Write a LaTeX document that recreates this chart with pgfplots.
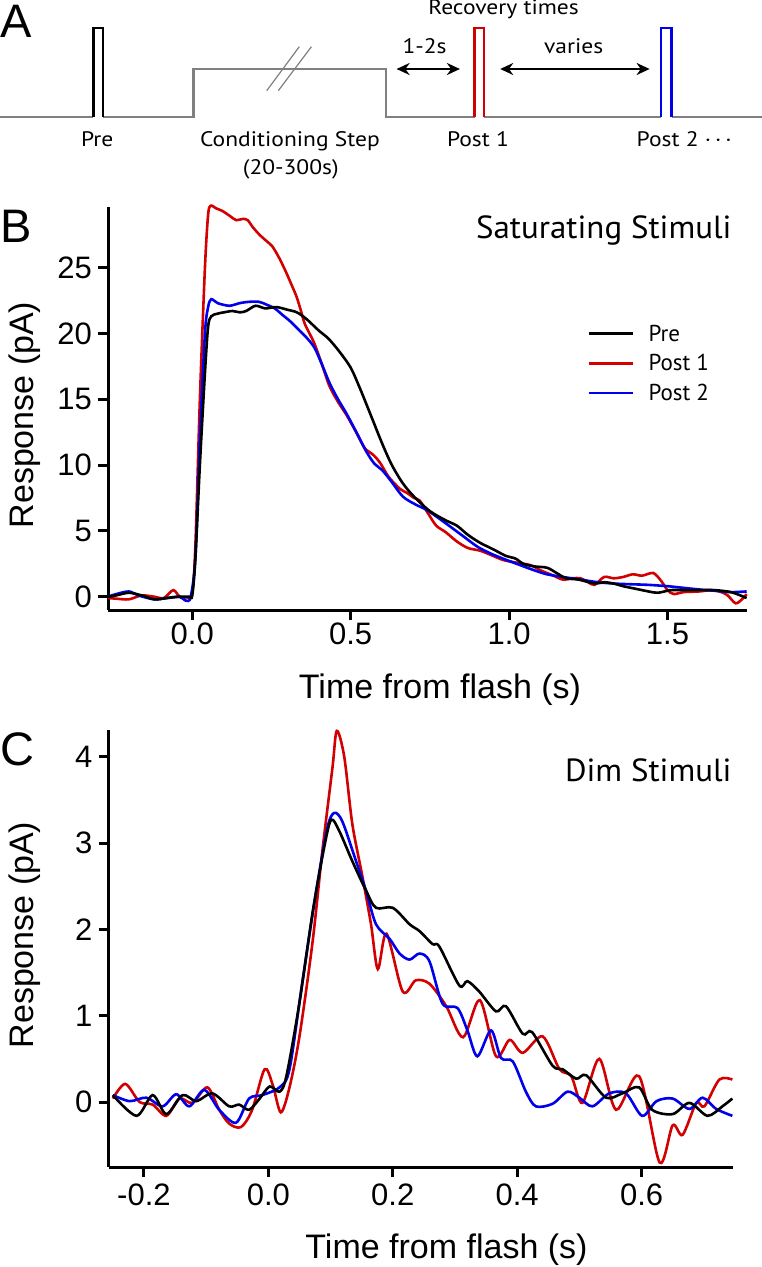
\documentclass[border=0pt]{standalone}
\usepackage{pgfplots}
\pgfplotsset{compat=1.18}
\usepackage{fontspec}
\setmainfont{Liberation Sans}
\newfontfamily\myriad{PT Sans}
\usetikzlibrary{arrows.meta}
\definecolor{cred}{RGB}{210,0,0}
\definecolor{cblue}{RGB}{0,0,235}
\definecolor{cgray}{RGB}{128,128,128}
\begin{document}
\begin{tikzpicture}
\path[use as bounding box] (0pt,0pt) rectangle (762pt,-1267pt);
% ---------------- Panel A ----------------
\begin{axis}[at={(0pt,0pt)}, anchor=north west, width=762pt, height=200pt, scale only axis,
  xmin=0, xmax=762, ymin=-200, ymax=0, hide axis, clip=false]
\addplot[cgray, line width=2.8pt] coordinates {(0,-117) (93.4,-117)};
\addplot[cgray, line width=2.8pt] coordinates {(103.2,-117) (193.7,-117) (193.7,-69) (385.9,-69) (385.9,-117) (474.5,-117)};
\addplot[cgray, line width=2.8pt] coordinates {(484.2,-117) (660.8,-117)};
\addplot[cgray, line width=2.8pt] coordinates {(671.5,-117) (762,-117)};
\addplot[cgray, line width=1.2pt] coordinates {(266.7,-90.7) (299.3,-46.7)};
\addplot[cgray, line width=1.2pt] coordinates {(278.3,-90.7) (311.4,-46.7)};
\addplot[black, line width=2.5pt] coordinates {(93.4,-117) (93.4,-28) (103.2,-28) (103.2,-117)};
\addplot[cred, line width=2.5pt] coordinates {(474.5,-117) (474.5,-28) (484.2,-28) (484.2,-117)};
\addplot[cblue, line width=2.5pt] coordinates {(660.8,-117) (660.8,-28) (671.5,-28) (671.5,-117)};
\addplot[black, line width=2.4pt, {Stealth[length=13pt,width=12pt]}-{Stealth[length=13pt,width=12pt]}] coordinates {(396.6,-69) (459.9,-69)};
\addplot[black, line width=2.4pt, {Stealth[length=13pt,width=12pt]}-{Stealth[length=13pt,width=12pt]}] coordinates {(500.2,-69) (649.6,-69)};
\end{axis}
% ---------------- Panel B ----------------
\begin{axis}[at={(108pt,-610pt)}, anchor=south west, width=639pt, height=403pt, scale only axis,
  xmin=-0.266, xmax=1.751, ymin=-1.01, ymax=29.6,
  axis x line*=bottom, axis y line*=left,
  axis line style={line width=3pt, -},
  tick style={line width=3pt, black}, tick align=outside, major tick length=10pt,
  xtick={0,0.5,1,1.5}, xticklabels={0.0,0.5,1.0,1.5},
  ytick={0,5,10,15,20,25}, yticklabels={0,5,10,15,20,25},
  tick label style={font=\fontsize{31}{37}\selectfont},
  xticklabel style={inner sep=0pt, anchor=north, yshift=-3pt},
  yticklabel style={inner sep=0pt, anchor=east, xshift=-6pt},
  legend style={draw=none, fill=none, at={(axis description cs:0.7496,0.708)}, anchor=north west,
     font=\myriad\fontsize{23}{27}\selectfont, row sep=11.8pt, inner sep=0pt,
     nodes={inner sep=0pt},
     /tikz/every odd column/.append style={column sep=14.5pt}},
  legend cell align=left,
  legend image code/.code={\draw[#1] (0pt,0pt) -- (44pt,0pt);},
  clip=false]
\addlegendimage{black, line width=2.8pt}
\addlegendentry{Pre}
\addlegendimage{cred, line width=2.8pt}
\addlegendentry{Post 1}
\addlegendimage{cblue, line width=2.8pt}
\addlegendentry{Post 2}
\addplot[cred, line width=2.6pt, smooth, forget plot] coordinates {
(-0.266,-0.1) (-0.24,-0.15) (-0.2,-0.2) (-0.16,0.1) (-0.12,0.0) (-0.09,-0.1) (-0.06,0.5) (-0.04,0.0)
(-0.02,-0.05) (0.0,0.3) (0.01,4) (0.024,15) (0.04,25) (0.05,29) (0.058,29.7) (0.075,29.5)
(0.095,29.3) (0.12,28.9) (0.139,28.6) (0.16,28.7) (0.175,28.6) (0.19,28.1) (0.212,27.5) (0.235,27.0)
(0.253,26.6) (0.275,25.7) (0.297,24.6) (0.315,23.6) (0.329,22.8) (0.342,21.8) (0.354,20.8) (0.37,20.0)
(0.386,19.2) (0.41,17.6) (0.433,16.0) (0.46,14.8) (0.487,13.8) (0.515,12.6) (0.544,11.3) (0.57,10.8)
(0.592,10.2) (0.62,9.1) (0.655,8.2) (0.677,7.9) (0.7,7.5) (0.718,7.3) (0.745,6.3) (0.77,5.4)
(0.8,4.9) (0.835,4.2) (0.87,3.7) (0.908,3.5) (0.94,3.2) (0.98,2.8) (1.02,2.6) (1.067,2.4)
(1.1,2.0) (1.14,1.6) (1.17,1.3) (1.2,1.4) (1.225,1.4) (1.25,1.1) (1.27,0.9) (1.30,1.5)
(1.33,1.4) (1.36,1.5) (1.39,1.7) (1.42,1.6) (1.455,1.8) (1.48,1.2) (1.50,0.5) (1.52,0.2)
(1.55,0.35) (1.6,0.4) (1.64,0.5) (1.67,0.35) (1.69,0.1) (1.715,-0.5) (1.735,-0.2) (1.75,0.2)};
\addplot[cblue, line width=2.6pt, smooth, forget plot] coordinates {
(-0.266,0.0) (-0.24,0.2) (-0.2,0.4) (-0.17,0.1) (-0.12,-0.2) (-0.08,-0.1) (-0.04,0.0) (-0.02,-0.3)
(-0.005,0.0) (0.01,3) (0.024,12) (0.04,20) (0.05,22) (0.06,22.6) (0.08,22.3) (0.117,22.1)
(0.15,22.3) (0.18,22.4) (0.21,22.4) (0.233,22.2) (0.26,21.9) (0.285,21.4) (0.31,20.9) (0.339,20.2)
(0.36,19.7) (0.386,18.9) (0.41,17.6) (0.434,16.2) (0.46,15.0) (0.487,13.9) (0.52,12.4) (0.55,11.0)
(0.575,10.1) (0.6,9.6) (0.63,8.7) (0.665,7.6) (0.705,7.0) (0.74,6.6) (0.77,6.1) (0.81,5.4)
(0.855,4.6) (0.9,3.8) (0.94,3.3) (0.98,2.9) (1.035,2.4) (1.08,2.0) (1.12,1.7) (1.17,1.5)
(1.225,1.3) (1.28,1.1) (1.33,1.0) (1.38,0.95) (1.44,0.9) (1.5,0.8) (1.54,0.7) (1.6,0.55)
(1.65,0.45) (1.7,0.35) (1.75,0.4)};
\addplot[black, line width=2.6pt, smooth, forget plot] coordinates {
(-0.266,0.0) (-0.24,0.1) (-0.2,0.3) (-0.16,0.1) (-0.12,-0.2) (-0.08,-0.1) (-0.04,0.0) (-0.01,0.0)
(0.0,0.1) (0.01,3) (0.024,10) (0.04,17) (0.05,20.5) (0.06,21.3) (0.08,21.5) (0.1,21.6)
(0.127,21.7) (0.15,21.6) (0.17,21.7) (0.2,22.1) (0.23,21.9) (0.265,22.0) (0.3,21.8) (0.33,21.6)
(0.36,21.1) (0.40,20.2) (0.43,19.6) (0.465,18.6) (0.5,17.4) (0.528,15.9) (0.56,14.0) (0.6,11.6)
(0.63,10.0) (0.665,8.6) (0.70,7.6) (0.75,6.5) (0.8,5.8) (0.835,5.4) (0.87,4.7) (0.908,4.1)
(0.95,3.6) (0.99,3.1) (1.02,2.9) (1.045,2.5) (1.08,2.3) (1.12,2.2) (1.15,1.8) (1.18,1.4)
(1.22,1.3) (1.27,1.0) (1.30,1.1) (1.33,1.0) (1.36,0.8) (1.40,0.6) (1.44,0.4) (1.47,0.3)
(1.51,0.5) (1.55,0.5) (1.6,0.5) (1.65,0.5) (1.70,0.35) (1.73,0.1) (1.75,-0.1)};
\end{axis}
% ---------------- Panel C ----------------
\begin{axis}[at={(108.5pt,-1167pt)}, anchor=south west, width=624.5pt, height=437pt, scale only axis,
  xmin=-0.257, xmax=0.747, ymin=-0.753, ymax=4.31,
  axis x line*=bottom, axis y line*=left,
  axis line style={line width=3pt, -},
  tick style={line width=3pt, black}, tick align=outside, major tick length=10pt,
  xtick={-0.2,0,0.2,0.4,0.6}, xticklabels={-0.2,0.0,0.2,0.4,0.6},
  ytick={0,1,2,3,4}, yticklabels={0,1,2,3,4},
  tick label style={font=\fontsize{31}{37}\selectfont},
  xticklabel style={inner sep=0pt, anchor=north, yshift=-7pt},
  yticklabel style={inner sep=0pt, anchor=east, xshift=-6pt},
  clip=false]
\addplot[cred, line width=2.6pt, smooth] coordinates {
(-0.25,0.04) (-0.23,0.21) (-0.207,0.0) (-0.186,-0.03) (-0.164,-0.16) (-0.143,0.04) (-0.122,-0.01)
(-0.098,0.17) (-0.079,-0.09) (-0.063,-0.25) (-0.044,-0.29) (-0.026,-0.09) (-0.006,0.38) (0.007,0.2)
(0.02,-0.12) (0.034,0.17) (0.05,0.76) (0.071,1.85) (0.087,2.92) (0.103,3.87) (0.11,4.3) (0.122,4.0)
(0.135,3.22) (0.151,2.62) (0.165,2.06) (0.176,1.54) (0.19,1.95) (0.216,1.28) (0.237,1.41)
(0.259,1.37) (0.286,1.11) (0.313,0.75) (0.34,1.18) (0.366,0.53) (0.388,0.72) (0.409,0.57)
(0.441,0.76) (0.468,0.38) (0.487,0.3) (0.505,-0.01) (0.532,0.5) (0.559,-0.09) (0.596,0.3)
(0.629,-0.7) (0.65,-0.27) (0.666,-0.38) (0.688,-0.01) (0.701,-0.05) (0.725,0.26) (0.746,0.26)};
\addplot[cblue, line width=2.6pt, smooth] coordinates {
(-0.25,0.08) (-0.223,0.01) (-0.196,0.05) (-0.17,-0.05) (-0.148,0.09) (-0.127,-0.05) (-0.103,0.14)
(-0.079,-0.09) (-0.052,-0.24) (-0.031,0.04) (-0.01,0.08) (0.018,0.17) (0.034,0.38) (0.055,1.41)
(0.077,2.45) (0.095,3.18) (0.106,3.35) (0.119,3.25) (0.141,2.79) (0.157,2.45) (0.173,2.06)
(0.195,1.89) (0.211,1.72) (0.227,1.65) (0.243,1.72) (0.259,1.63) (0.28,1.14) (0.304,1.09)
(0.32,0.83) (0.336,0.53) (0.358,0.83) (0.374,0.51) (0.393,0.47) (0.414,0.12) (0.43,-0.05)
(0.457,-0.02) (0.481,0.12) (0.5,0.05) (0.521,-0.05) (0.548,0.1) (0.575,0.1) (0.601,-0.16)
(0.624,0.01) (0.65,0.04) (0.677,-0.08) (0.698,0.05) (0.72,-0.08) (0.746,-0.16)};
\addplot[black, line width=2.6pt, smooth] coordinates {
(-0.25,0.08) (-0.212,-0.16) (-0.186,0.08) (-0.164,-0.14) (-0.138,0.08) (-0.116,0.01) (-0.09,0.1)
(-0.063,-0.05) (-0.047,-0.03) (-0.031,-0.09) (-0.014,0.04) (0.002,0.18) (0.018,0.12) (0.029,0.3)
(0.05,1.15) (0.071,2.19) (0.09,2.96) (0.101,3.27) (0.114,3.14) (0.135,2.79) (0.157,2.45)
(0.173,2.25) (0.2,2.25) (0.227,2.06) (0.243,1.98) (0.264,1.83) (0.275,1.8) (0.307,1.35)
(0.32,1.4) (0.339,1.28) (0.366,1.05) (0.382,1.11) (0.409,0.79) (0.424,0.81) (0.457,0.42)
(0.473,0.38) (0.495,0.27) (0.511,0.31) (0.543,0.05) (0.569,0.1) (0.596,0.17) (0.617,-0.09)
(0.65,-0.14) (0.677,-0.01) (0.706,-0.16) (0.73,-0.05) (0.746,0.04)};
\end{axis}
% ---------------- labels ----------------
\begin{scope}[x=1pt, y=1pt, every node/.style={inner sep=0pt}]
\begin{scope}[every node/.append style={font=\myriad\fontsize{21}{25}\selectfont, xscale=1.12}]
\node[anchor=base] at (503.6,-14) {Recovery times};
\node[anchor=base] at (424.5,-53) {1-2s};
\node[anchor=base] at (573.7,-53) {varies};
\node[anchor=base] at (97.3,-146.7) {Pre};
\node[anchor=base] at (290,-146.7) {Conditioning Step};
\node[anchor=base] at (290.8,-174) {(20-300s)};
\node[anchor=base] at (478,-146.7) {Post 1};
\node[anchor=base west] at (636.5,-146.7) {Post 2 ·\,·\,·};
\end{scope}
\node[anchor=base west, font=\fontsize{47}{50}\selectfont] at (0,-37) {A};
\node[anchor=base west, font=\fontsize{47}{50}\selectfont] at (0,-242) {B};
\node[anchor=base west, font=\fontsize{47}{50}\selectfont] at (0,-765) {C};
\node[anchor=base east, xscale=1.03, font=\myriad\fontsize{32}{36}\selectfont] at (731.7,-238.3) {Saturating Stimuli};
\node[anchor=base east, xscale=1.03, font=\myriad\fontsize{32}{36}\selectfont] at (731.7,-781) {Dim Stimuli};
\node[anchor=base, rotate=90, font=\fontsize{34}{40}\selectfont] at (33,-415) {Response (pA)};
\node[anchor=base, rotate=90, font=\fontsize{34}{40}\selectfont] at (33,-935) {Response (pA)};
\node[anchor=base, font=\fontsize{34}{40}\selectfont] at (440,-698) {Time from flash (s)};
\node[anchor=base, font=\fontsize{34}{40}\selectfont] at (446.5,-1258) {Time from flash (s)};
\end{scope}
\end{tikzpicture}
\end{document}
